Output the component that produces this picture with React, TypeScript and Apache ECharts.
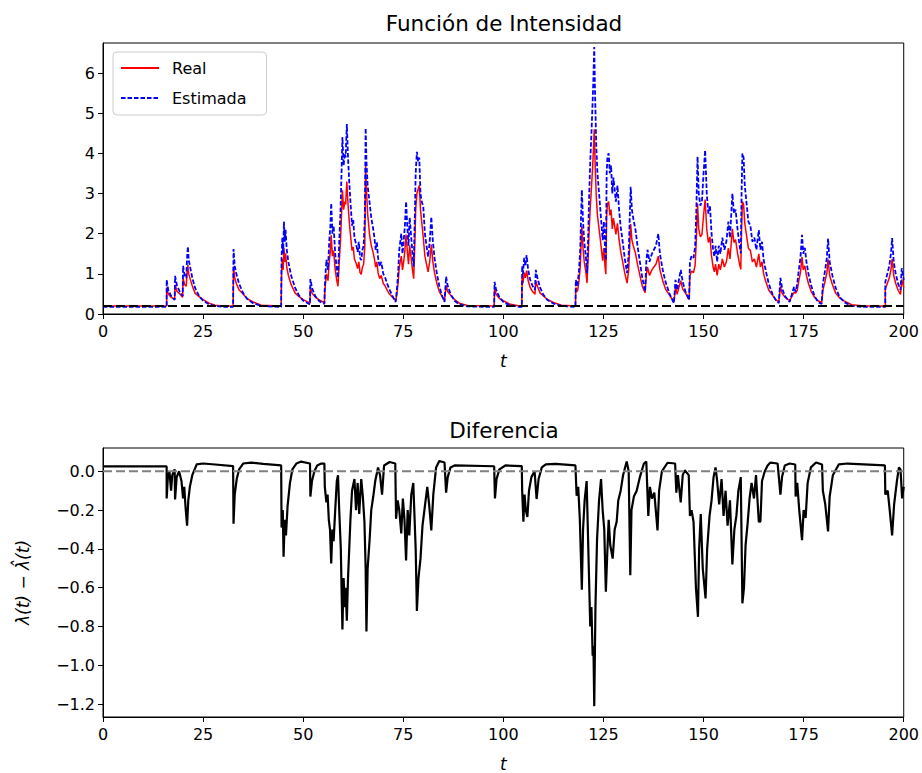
import React, { useEffect, useRef } from "react";
import * as echarts from "echarts";

// ---- data ----
const times = [
  0, 15.9, 15.9, 16.3, 17.0, 17.9, 18.0, 18.5, 19.2, 19.9,
  20.0, 20.4, 20.8, 21.0, 21.2, 21.4, 21.7, 22.3, 23.0, 24.0, 25.0, 26.5, 28.0, 30.0, 32.5,
  32.6, 32.9, 33.3, 34.0, 35.0, 36.0, 37.5, 39.5, 44.5,
  44.6, 44.6, 44.8, 45.0, 45.2, 45.4, 45.6, 45.9, 46.3, 47.0, 48.0, 49.0, 50.0, 51.7,
  51.8, 52.2, 53.0, 54.0, 55.3,
  55.4, 55.8, 56.2, 56.5, 56.8, 57.0, 57.3, 57.6, 58.0, 58.4, 58.7,
  59.0, 59.3, 59.6, 59.8, 60.1, 60.4, 60.6, 60.9, 61.2, 61.5, 61.8, 62.2,
  62.5, 62.8, 63.2, 63.6, 63.9, 64.2, 64.5, 64.8, 65.1, 65.4,
  65.6, 65.8, 66.1, 66.6, 67.0, 67.4, 67.8, 68.1, 68.4, 68.7, 69.1, 69.5, 70.0, 70.4, 71.0, 71.6, 72.3, 73.1,
  73.4, 73.7, 74.0, 74.5, 74.8, 75.1, 75.4, 75.7, 76.0, 76.3, 76.6, 77.0, 77.3, 77.6, 77.9, 78.1, 78.4, 78.7, 79.0, 79.3, 79.6, 80.0, 80.4, 80.8, 81.2, 81.6, 82.0, 82.4, 82.8, 83.4, 84.0, 84.6, 85.3,
  85.7, 86.1, 86.8, 87.8, 89.0, 91.0, 97.7,
  97.8, 98.2, 99.0, 100.0, 101.5, 104.0, 104.6,
  104.7, 104.9, 105.2, 105.5, 105.8, 106.2, 106.7, 107.3, 107.9, 108.1, 108.5, 109.2, 110.0, 111.0, 112.5, 114.5, 118.0,
  118.1, 118.5, 118.9, 119.2, 119.4, 119.6, 119.9, 120.2, 120.6, 120.9, 121.2, 121.4, 121.7, 122.0, 122.3, 122.5, 122.7, 122.9, 123.2, 123.5, 123.9, 124.3, 124.8, 125.1, 125.4, 125.6,
  125.8, 126.0, 126.3, 126.6, 126.9, 127.2, 127.5, 127.8, 128.1, 128.5, 128.9, 129.3, 129.8, 130.3, 130.9, 131.3, 131.8, 132.1, 132.5, 133.0, 133.5, 134.1, 134.7, 135.4,
  135.7, 136.0, 136.5, 137.1, 137.6, 138.1, 138.7, 139.1, 139.8, 140.5, 141.5, 142.6, 143.0, 143.4, 144.3, 144.8, 145.5, 146.4,
  146.6, 147.0, 147.5, 147.9, 148.2, 148.5, 148.8, 149.2, 149.6, 150.0, 150.4, 150.8, 151.2, 151.6, 152.0, 152.4, 152.7,
  153.0, 153.4, 153.8, 154.2, 154.7, 155.2, 155.7, 156.2, 156.6, 157.2, 157.6, 158.0, 158.5, 159.0, 159.3, 159.5, 159.7, 160.0, 160.3, 160.7, 161.2, 161.7, 162.2, 162.7, 163.2, 163.8, 164.2, 164.6, 165.0, 165.6, 166.3, 167.2, 168.0, 168.8,
  169.2, 169.6, 170.3, 171.5, 172.6, 173.0, 173.4, 173.8, 174.2, 174.6, 174.9, 175.3, 175.7, 176.2, 176.9, 177.7, 178.6, 179.5, 179.8, 180.3, 180.8, 181.1, 181.5, 182.2, 183.0, 184.0, 185.2, 187.0, 190.0, 195.4,
  195.4, 195.9, 196.4, 196.8, 197.1, 197.5, 198.0, 198.6, 199.2, 199.5, 200.0,
];

const estimated = [
  0.175, 0.175, 0.85, 0.6, 0.45, 0.35, 0.95, 0.7, 0.55, 0.45,
  1.2, 0.95, 0.9, 1.4, 1.68, 1.35, 1.2, 0.9, 0.65, 0.45, 0.33, 0.24, 0.2, 0.18, 0.175,
  1.62, 1.2, 1.0, 0.75, 0.52, 0.38, 0.27, 0.2, 0.175,
  0.175, 1.4, 1.9, 1.5, 2.3, 1.8, 2.1, 1.6, 1.3, 0.95, 0.65, 0.45, 0.33, 0.24,
  0.87, 0.65, 0.45, 0.32, 0.25,
  0.7, 1.35, 1.1, 1.8, 2.2, 2.76, 2.0, 2.2, 1.5, 1.1, 0.9,
  1.8, 2.5, 3.6, 4.41, 3.7, 4.0, 3.9, 4.73, 3.9, 3.3, 2.8, 2.2,
  2.34, 1.9, 1.75, 1.55, 1.8, 1.4, 1.34, 1.6, 1.7, 2.4,
  4.63, 3.8, 3.2, 2.76, 2.4, 2.17, 1.9, 1.6, 1.8, 1.4, 1.18, 1.3, 1.0, 0.93, 0.75, 0.6, 0.45, 0.3,
  0.6, 1.0, 1.6, 2.0, 1.5, 1.8, 2.2, 2.8, 2.2, 1.7, 2.4, 1.9, 1.5, 1.18, 2.5, 3.5, 4.04, 3.8, 3.9, 3.0, 2.8, 2.67, 2.0, 1.7, 1.43, 1.8, 2.42, 1.8, 1.4, 1.0, 0.7, 0.48, 0.3,
  0.93, 0.7, 0.5, 0.33, 0.24, 0.19, 0.175,
  0.8, 0.6, 0.42, 0.3, 0.22, 0.18, 0.175,
  1.2, 1.0, 1.4, 1.2, 1.47, 1.1, 0.85, 0.7, 0.6, 1.1, 0.9, 0.65, 0.48, 0.35, 0.26, 0.2, 0.175,
  0.85, 0.7, 1.1, 1.6, 2.4, 3.09, 2.3, 1.8, 1.43, 1.02, 2.0, 2.84, 3.8, 4.5, 5.3, 5.9, 6.65, 5.5, 4.2, 3.5, 3.0, 2.5, 1.84, 2.3, 1.6, 1.34,
  3.5, 3.92, 4.0, 3.5, 3.7, 3.0, 3.4, 3.1, 2.8, 3.2, 2.6, 2.17, 1.8, 1.4, 1.02, 1.5, 3.17, 2.6, 2.35, 2.1, 1.7, 1.3, 0.9, 0.56,
  1.3, 1.6, 1.3, 1.5, 1.6, 1.7, 2.0, 1.5, 1.1, 0.8, 0.5, 0.27, 0.85, 0.6, 1.1, 0.8, 0.55, 0.35,
  1.3, 1.45, 1.4, 1.68, 2.6, 3.92, 3.0, 2.7, 2.8, 3.5, 4.08, 3.0, 2.5, 2.7, 2.0, 1.6, 1.43,
  1.7, 1.3, 1.7, 1.5, 1.9, 1.6, 1.8, 2.3, 1.9, 3.0, 2.5, 2.6, 2.1, 1.7, 1.51, 3.0, 4.0, 3.9, 3.2, 2.8, 2.3, 2.2, 1.8, 1.9, 1.6, 2.09, 1.6, 1.8, 1.35, 1.05, 0.75, 0.5, 0.35, 0.27,
  0.9, 0.65, 0.45, 0.3, 0.68, 0.55, 0.75, 1.1, 1.4, 1.97, 1.5, 1.65, 1.3, 1.0, 0.7, 0.45, 0.3, 0.25, 0.75, 1.05, 1.4, 1.88, 1.3, 0.95, 0.65, 0.42, 0.29, 0.2, 0.175, 0.175,
  0.8, 1.0, 1.2, 1.5, 1.89, 1.3, 1.0, 0.75, 0.6, 1.14, 0.85,
];

const real = [
  0.2, 0.2, 0.66, 0.5, 0.42, 0.36, 0.73, 0.56, 0.5, 0.42,
  0.9, 0.73, 0.69, 1.03, 1.22, 1.0, 0.9, 0.7, 0.52, 0.43, 0.36, 0.27, 0.22, 0.2, 0.2,
  1.18, 0.9, 0.76, 0.6, 0.5, 0.38, 0.3, 0.22, 0.2,
  0.2, 1.03, 1.37, 1.1, 1.64, 1.3, 1.51, 1.17, 0.96, 0.73, 0.52, 0.43, 0.36, 0.27,
  0.67, 0.52, 0.42, 0.35, 0.28,
  0.56, 1.0, 0.83, 1.3, 1.58, 1.96, 1.44, 1.58, 1.1, 0.83, 0.69,
  1.3, 1.78, 2.53, 3.08, 2.6, 2.8, 2.73, 3.3, 2.73, 2.32, 1.98, 1.58,
  1.67, 1.37, 1.27, 1.13, 1.3, 1.03, 0.99, 1.17, 1.24, 1.71,
  3.7, 3.1, 2.5, 1.96, 1.71, 1.56, 1.37, 1.17, 1.3, 1.03, 0.88, 0.96, 0.76, 0.71, 0.59, 0.49, 0.42, 0.33,
  0.49, 0.76, 1.17, 1.44, 1.1, 1.3, 1.58, 1.98, 1.58, 1.24, 1.71, 1.37, 1.1, 0.88, 1.78, 2.6, 3.0, 3.1, 3.2, 2.6, 2.3, 1.9, 1.44, 1.24, 1.05, 1.3, 1.73, 1.3, 1.03, 0.76, 0.56, 0.45, 0.33,
  0.71, 0.56, 0.47, 0.36, 0.27, 0.21, 0.2,
  0.62, 0.49, 0.39, 0.33, 0.25, 0.2, 0.2,
  0.9, 0.76, 1.03, 0.9, 1.08, 0.83, 0.66, 0.56, 0.49, 0.83, 0.69, 0.52, 0.45, 0.36, 0.29, 0.22, 0.2,
  0.66, 0.56, 0.83, 1.17, 1.71, 2.18, 1.64, 1.3, 1.05, 0.77, 1.44, 2.01, 2.66, 3.14, 3.68, 4.09, 4.6, 3.82, 2.94, 2.46, 2.12, 1.78, 1.33, 1.64, 1.17, 0.99,
  2.46, 2.75, 2.8, 2.46, 2.6, 2.12, 2.39, 2.19, 1.98, 2.26, 1.85, 1.56, 1.3, 1.03, 0.77, 1.1, 2.24, 1.85, 1.68, 1.51, 1.24, 0.96, 0.69, 0.53,
  0.96, 1.17, 0.96, 1.1, 1.17, 1.24, 1.44, 1.1, 0.83, 0.62, 0.47, 0.3, 0.66, 0.49, 0.83, 0.62, 0.52, 0.36,
  0.96, 1.07, 1.03, 1.22, 1.85, 2.75, 2.12, 1.92, 1.98, 2.46, 2.85, 2.12, 1.78, 1.92, 1.44, 1.17, 1.05,
  1.24, 0.96, 1.24, 1.1, 1.37, 1.17, 1.3, 1.64, 1.37, 2.12, 1.78, 1.85, 1.51, 1.24, 1.11, 2.12, 2.8, 2.73, 2.26, 1.98, 1.64, 1.58, 1.3, 1.37, 1.17, 1.5, 1.17, 1.3, 1.0, 0.79, 0.59, 0.47, 0.36, 0.3,
  0.69, 0.52, 0.42, 0.33, 0.54, 0.52, 0.59, 0.83, 1.03, 1.42, 1.1, 1.2, 0.96, 0.76, 0.56, 0.42, 0.33, 0.28, 0.59, 0.79, 1.03, 1.36, 0.96, 0.73, 0.52, 0.4, 0.32, 0.23, 0.2, 0.2,
  0.62, 0.76, 0.9, 1.1, 1.37, 0.96, 0.76, 0.59, 0.49, 0.86, 0.66,
];

const baselineMu = 0.2;

const difference: [number, number][] = [
  [0, 0.025], [15.9, 0.025], [15.9, -0.14], [16.2, -0.03], [16.6, 0.0], [17.0, -0.1], [17.3, -0.02], [17.9, 0.01],
  [18.0, -0.145], [18.4, -0.03], [19.0, 0.0], [19.6, -0.05], [20.0, -0.14], [20.3, -0.08], [20.6, -0.18], [21.0, -0.28],
  [21.3, -0.15], [21.7, -0.08], [22.3, -0.02], [23.4, 0.036], [25, 0.04], [28, 0.035], [32.5, 0.027],
  [32.6, -0.27], [32.9, -0.12], [33.4, -0.04], [34.0, 0.01], [35.0, 0.04], [37, 0.045], [40, 0.038], [44.5, 0.03],
  [44.6, -0.29], [44.9, -0.2], [45.1, -0.44], [45.4, -0.25], [45.7, -0.33], [46.1, -0.18], [46.7, -0.06], [47.3, 0.01],
  [48.3, 0.04], [49.5, 0.05], [51.7, 0.04],
  [51.8, -0.13], [52.2, -0.05], [52.8, 0.0], [53.5, 0.03], [54.5, 0.04], [55.3, 0.04],
  [55.4, -0.08], [55.8, -0.16], [56.1, -0.12], [56.4, -0.25], [56.7, -0.3], [57.0, -0.475], [57.3, -0.3], [57.6, -0.36],
  [58.0, -0.2], [58.4, -0.05], [58.7, -0.02],
  [59.0, -0.2], [59.4, -0.4], [59.6, -0.62], [59.8, -0.815], [60.1, -0.55], [60.4, -0.7], [60.6, -0.6], [60.9, -0.77],
  [61.2, -0.55], [61.5, -0.4], [61.8, -0.25], [62.2, -0.1], [62.8, -0.04], [63.2, -0.2], [63.6, -0.06], [64.0, -0.22],
  [64.5, -0.04], [64.9, -0.13], [65.3, -0.26], [65.6, -0.5], [65.8, -0.825], [66.1, -0.5], [66.6, -0.35], [67.0, -0.2],
  [67.5, -0.13], [68.0, -0.05], [68.7, 0.02], [69.2, -0.02], [69.7, -0.12], [70.2, 0.03], [71.6, 0.048], [73.0, 0.04],
  [73.2, -0.245], [73.6, -0.15], [74.0, -0.2], [74.5, -0.32], [74.9, -0.14], [75.3, -0.25], [75.7, -0.46], [76.1, -0.2],
  [76.5, -0.33], [77.0, -0.12], [77.5, -0.06], [78.1, -0.4], [78.4, -0.72], [78.8, -0.55], [79.3, -0.45], [79.8, -0.28],
  [80.4, -0.18], [81.0, -0.08], [81.5, -0.18], [82.0, -0.305], [82.5, -0.12], [83.2, 0.02], [84.0, 0.053], [85.3, 0.045],
  [85.7, -0.11], [86.1, -0.03], [86.8, 0.02], [87.8, 0.03], [97.7, 0.026],
  [97.9, -0.14], [98.3, -0.04], [99.0, 0.01], [100.5, 0.03], [104.6, 0.027],
  [104.7, -0.1], [105.0, -0.26], [105.3, -0.12], [105.6, -0.2], [106.0, -0.235], [106.4, -0.1], [107.0, -0.03], [107.8, 0.0],
  [108.3, -0.143], [108.8, -0.04], [109.6, 0.02], [110.6, 0.036], [113, 0.038], [118.0, 0.03],
  [118.3, -0.126], [118.7, -0.08], [119.1, -0.25], [119.6, -0.61], [119.9, -0.3], [120.3, -0.15], [120.8, -0.05], [121.1, -0.3],
  [121.4, -0.55], [121.7, -0.8], [122.0, -0.7], [122.3, -0.95], [122.5, -0.9], [122.7, -1.21], [123.0, -0.7], [123.4, -0.35],
  [123.9, -0.15], [124.4, -0.04], [124.8, -0.2], [125.2, -0.3], [125.6, -0.62], [125.9, -0.45], [126.3, -0.25], [126.7, -0.38],
  [127.3, -0.45], [127.8, -0.3], [128.3, -0.26], [128.7, -0.15], [129.3, -0.1], [129.9, -0.02], [130.8, 0.05], [131.3, 0.0],
  [131.7, -0.535], [132.0, -0.2], [132.6, -0.13], [133.3, -0.1], [134.1, -0.03], [135.1, 0.04], [135.7, 0.05], [136.2, -0.23],
  [136.6, -0.08], [137.1, -0.14], [137.7, -0.11], [138.5, -0.305], [138.9, -0.1], [139.6, 0.0], [141.0, 0.044], [142.9, 0.04],
  [143.2, -0.11], [143.6, -0.02], [144.3, -0.16], [144.8, -0.02], [145.3, 0.005], [146.3, -0.02], [146.6, -0.23], [147.0, -0.2],
  [147.5, -0.26], [148.1, -0.6], [148.6, -0.75], [148.9, -0.4], [149.3, -0.22], [149.8, -0.5], [150.5, -0.655], [150.9, -0.4],
  [151.5, -0.23], [152.0, -0.15], [152.5, -0.03], [153.0, 0.02], [153.4, -0.05], [153.9, -0.17], [154.5, -0.04], [155.0, -0.23],
  [155.5, -0.1], [156.0, -0.28], [156.6, -0.15], [157.2, -0.48], [157.7, -0.3], [158.2, -0.23], [158.7, -0.1], [159.3, -0.03],
  [159.7, -0.68], [160.1, -0.6], [160.5, -0.38], [161.0, -0.27], [161.5, -0.14], [162.0, -0.06], [162.6, -0.14], [163.1, -0.02],
  [163.8, -0.26], [164.2, -0.26], [164.6, -0.05], [165.3, 0.0], [166.0, 0.03], [166.7, 0.045], [168.5, 0.04],
  [169.2, -0.12], [169.6, -0.03], [170.3, 0.03], [171.5, 0.04], [172.9, 0.035],
  [173.0, -0.13], [173.4, -0.06], [173.9, -0.2], [174.6, -0.355], [175.0, -0.2], [175.5, -0.24], [176.0, -0.06], [176.8, 0.02],
  [178.1, 0.045], [179.6, 0.035],
  [179.8, -0.1], [180.4, -0.17], [181.1, -0.31], [181.5, -0.13], [182.3, -0.02], [183.8, 0.036], [186, 0.04], [195.3, 0.03],
  [195.4, -0.12], [196.0, -0.1], [196.5, -0.2], [197.1, -0.33], [197.6, -0.17], [198.3, -0.05], [198.8, 0.02], [199.2, 0.01],
  [199.6, -0.14], [200.0, -0.08],
];

const intensityTicks = [0, 1, 2, 3, 4, 5, 6];
const diffTicks = [-1.2, -1.0, -0.8, -0.6, -0.4, -0.2, 0.0];

const FONT = "DejaVu Sans";

export default function App() {
  const ref = useRef<HTMLDivElement>(null);

  useEffect(() => {
    if (!ref.current) return;
    const chart = echarts.init(ref.current, undefined, { renderer: "svg" });
    const n = Math.min(times.length, real.length, estimated.length);
    const realData = [] as [number, number][];
    const estData = [] as [number, number][];
    for (let i = 0; i < n; i++) {
      realData.push([times[i], real[i]]);
      estData.push([times[i], estimated[i]]);
    }

    const axisLine = { onZero: false, lineStyle: { color: "#000", width: 1 } };
    const tickStyle = { color: "#000", width: 1 };
    const fmtMinus = (v: number) => {
      const s = Math.abs(v).toFixed(1);
      return v < -1e-9 ? "\u2212" + s : s;
    };
    const xAxisBase = (gridIndex: number) => ({
      gridIndex,
      type: "value",
      min: 0,
      max: 200,
      interval: 25,
      name: "t",
      nameLocation: "middle",
      nameGap: 38,
      nameTextStyle: { fontStyle: "italic", fontSize: 17, color: "#000", fontFamily: FONT },
      axisLabel: { fontSize: 16, color: "#000", margin: 9, fontFamily: FONT },
      axisLine,
      axisTick: { length: 5, lineStyle: tickStyle },
      splitLine: { show: false },
    });

    chart.setOption({
      animation: false,
      backgroundColor: "#ffffff",
      textStyle: { fontFamily: FONT, color: "#000" },
      graphic: [
        {
          type: "text",
          x: 504,
          y: 23,
          style: {
            text: "Función de Intensidad",
            fill: "#000",
            font: `21.5px '${FONT}'`,
            textAlign: "center",
            textVerticalAlign: "middle",
          },
        },
        {
          type: "text",
          x: 504,
          y: 430,
          style: {
            text: "Diferencia",
            fill: "#000",
            font: `21.5px '${FONT}'`,
            textAlign: "center",
            textVerticalAlign: "middle",
          },
        },
      ],
      legend: {
        data: ["Real", "Estimada"],
        left: 113,
        top: 52,
        orient: "vertical",
        itemWidth: 38,
        itemHeight: 14,
        itemGap: 14,
        padding: [8, 20, 9, 7],
        backgroundColor: "rgba(255,255,255,0.8)",
        borderColor: "#cccccc",
        borderWidth: 1,
        borderRadius: 4,
        itemStyle: { opacity: 0 },
        textStyle: { fontSize: 16, color: "#000", fontFamily: FONT, padding: [0, 0, 0, 8] },
      },
      grid: [
        { left: 103, top: 43, width: 802, height: 271, show: true, borderColor: "#000", borderWidth: 1 },
        { left: 103, top: 448, width: 802, height: 272, show: true, borderColor: "#000", borderWidth: 1 },
      ],
      xAxis: [xAxisBase(0), xAxisBase(1)],
      yAxis: [
        {
          gridIndex: 0,
          type: "value",
          min: 0,
          max: 6.75,
          axisLabel: {
            fontSize: 16,
            color: "#000",
            margin: 8,
            fontFamily: FONT,
            customValues: intensityTicks,
            formatter: (v: number) => String(v),
          },
          axisLine,
          axisTick: { length: 5, lineStyle: tickStyle, customValues: intensityTicks },
          splitLine: { show: false },
        },
        {
          gridIndex: 1,
          type: "value",
          min: -1.266,
          max: 0.12,
          name: "\u03bb(t) \u2212 \u03bb\u0302(t)",
          nameLocation: "middle",
          nameGap: 72,
          nameRotate: 90,
          nameTextStyle: { fontStyle: "italic", fontSize: 17, color: "#000", fontFamily: FONT },
          axisLabel: {
            fontSize: 16,
            color: "#000",
            margin: 8,
            fontFamily: FONT,
            customValues: diffTicks,
            formatter: (v: number) => fmtMinus(v),
          },
          axisLine,
          axisTick: { length: 5, lineStyle: tickStyle, customValues: diffTicks },
          splitLine: { show: false },
        },
      ],
      series: [
        {
          name: "Real",
          type: "line",
          xAxisIndex: 0,
          yAxisIndex: 0,
          data: realData,
          symbol: "none",
          showSymbol: false,
          lineStyle: { color: "#ff0000", width: 1.5 },
          itemStyle: { color: "#ff0000" },
          z: 2,
        },
        {
          name: "Estimada",
          type: "line",
          xAxisIndex: 0,
          yAxisIndex: 0,
          data: estData,
          symbol: "none",
          showSymbol: false,
          lineStyle: { color: "#0000ff", width: 1.8, type: [4.5, 2] },
          itemStyle: { color: "#0000ff" },
          z: 3,
        },
        {
          name: "mu",
          type: "line",
          xAxisIndex: 0,
          yAxisIndex: 0,
          data: [
            [0, baselineMu],
            [200, baselineMu],
          ],
          symbol: "none",
          showSymbol: false,
          lineStyle: { color: "#000000", width: 2, type: [9, 4] },
          z: 4,
        },
        {
          name: "Diferencia",
          type: "line",
          xAxisIndex: 1,
          yAxisIndex: 1,
          data: difference,
          symbol: "none",
          showSymbol: false,
          lineStyle: { color: "#000000", width: 2.2 },
          z: 2,
        },
        {
          name: "cero",
          type: "line",
          xAxisIndex: 1,
          yAxisIndex: 1,
          data: [
            [0, 0],
            [200, 0],
          ],
          symbol: "none",
          showSymbol: false,
          lineStyle: { color: "#808080", width: 2, type: [9, 4] },
          z: 3,
        },
      ],
    });
    return () => chart.dispose();
  }, []);

  return (
    <div
      ref={ref}
      style={{ position: "absolute", left: 0, top: 0, width: 922, height: 773, background: "#fff" }}
    />
  );
}
